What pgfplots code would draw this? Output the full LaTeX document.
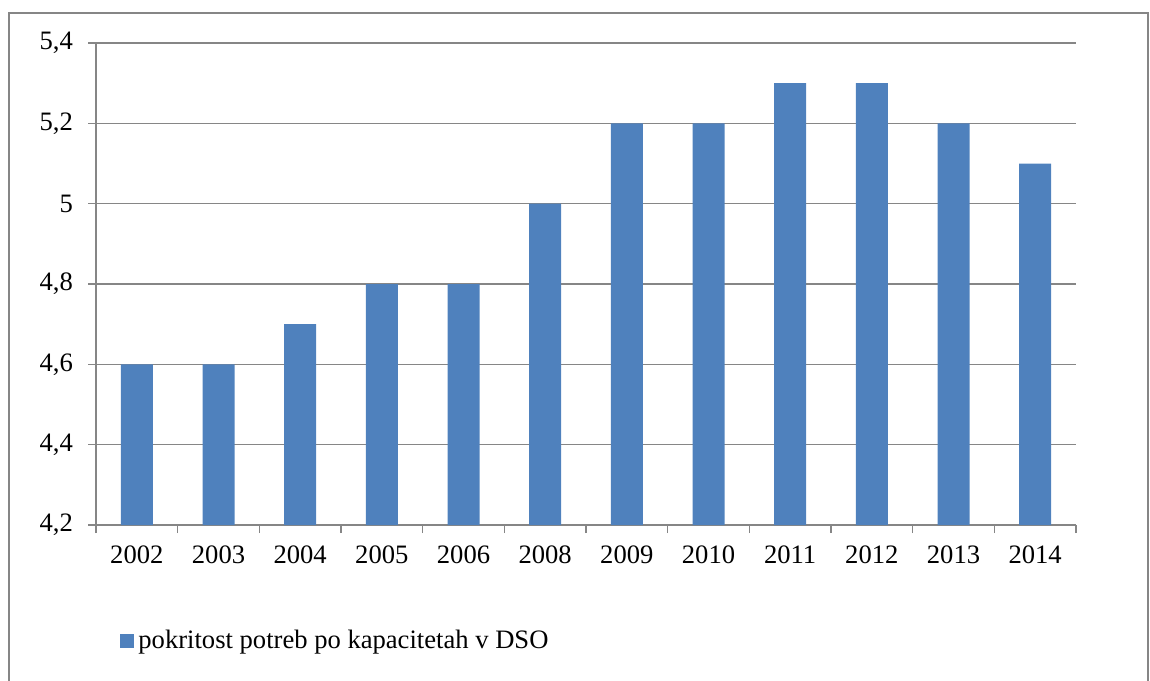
\documentclass[border=0pt]{standalone}
\usepackage{pgfplots}
\pgfplotsset{compat=1.18}
\usepackage{fontspec}
\setmainfont{Liberation Serif}
\definecolor{barblue}{HTML}{4F81BD}
\definecolor{axgray}{HTML}{868686}

\begin{document}
\begin{tikzpicture}
  \useasboundingbox (0pt,0pt) rectangle (575pt,-340pt);
  \draw[axgray, line width=0.8pt] (4.5pt,-341pt) -- (4.5pt,-6.5pt) -- (574pt,-6.5pt) -- (574pt,-341pt);
  \begin{axis}[
    at={(48pt,-262.5pt)}, anchor=south west,
    scale only axis,
    width=490pt, height=241pt,
    ybar, bar width=16pt, bar shift=0pt,
    xmin=-0.5, xmax=11.5,
    ymin=4.2, ymax=5.4,
    ytick={4.2,4.4,...,5.4},
    xtick={-0.5,0.5,...,11.5},
    x tick label as interval,
    xticklabels={2002,2003,2004,2005,2006,2008,2009,2010,2011,2012,2013,2014},
    axis lines=left,
    axis line style={-, axgray, line width=0.8pt},
    tick style={axgray, line width=0.8pt},
    tick align=outside,
    major tick length=4pt,
    ymajorgrids,
    grid style={axgray, line width=0.8pt},
    tick label style={font=\fontsize{13.3}{15}\selectfont, text=black},
    yticklabel style={xshift=-4pt},
    xticklabel style={yshift=-3pt},
    /pgf/number format/.cd, use comma, fixed, precision=1, assume math mode=true,
    /pgfplots/.cd,
    legend style={at={(0.0245,-0.2407)}, anchor=west, draw=none, fill=none,
      inner sep=0pt, font=\fontsize{13.3}{15}\selectfont},
    legend cell align=left,
    legend image code/.code={\fill[barblue] (0pt,-3.5pt) rectangle (7pt,3.5pt);},
  ]
    \addplot[fill=barblue, draw=none] coordinates {
      (0,4.6) (1,4.6) (2,4.7) (3,4.8) (4,4.8) (5,5.0)
      (6,5.2) (7,5.2) (8,5.3) (9,5.3) (10,5.2) (11,5.1)
    };
    \addlegendentry{pokritost potreb po kapacitetah v DSO}
  \end{axis}
\end{tikzpicture}
\end{document}
